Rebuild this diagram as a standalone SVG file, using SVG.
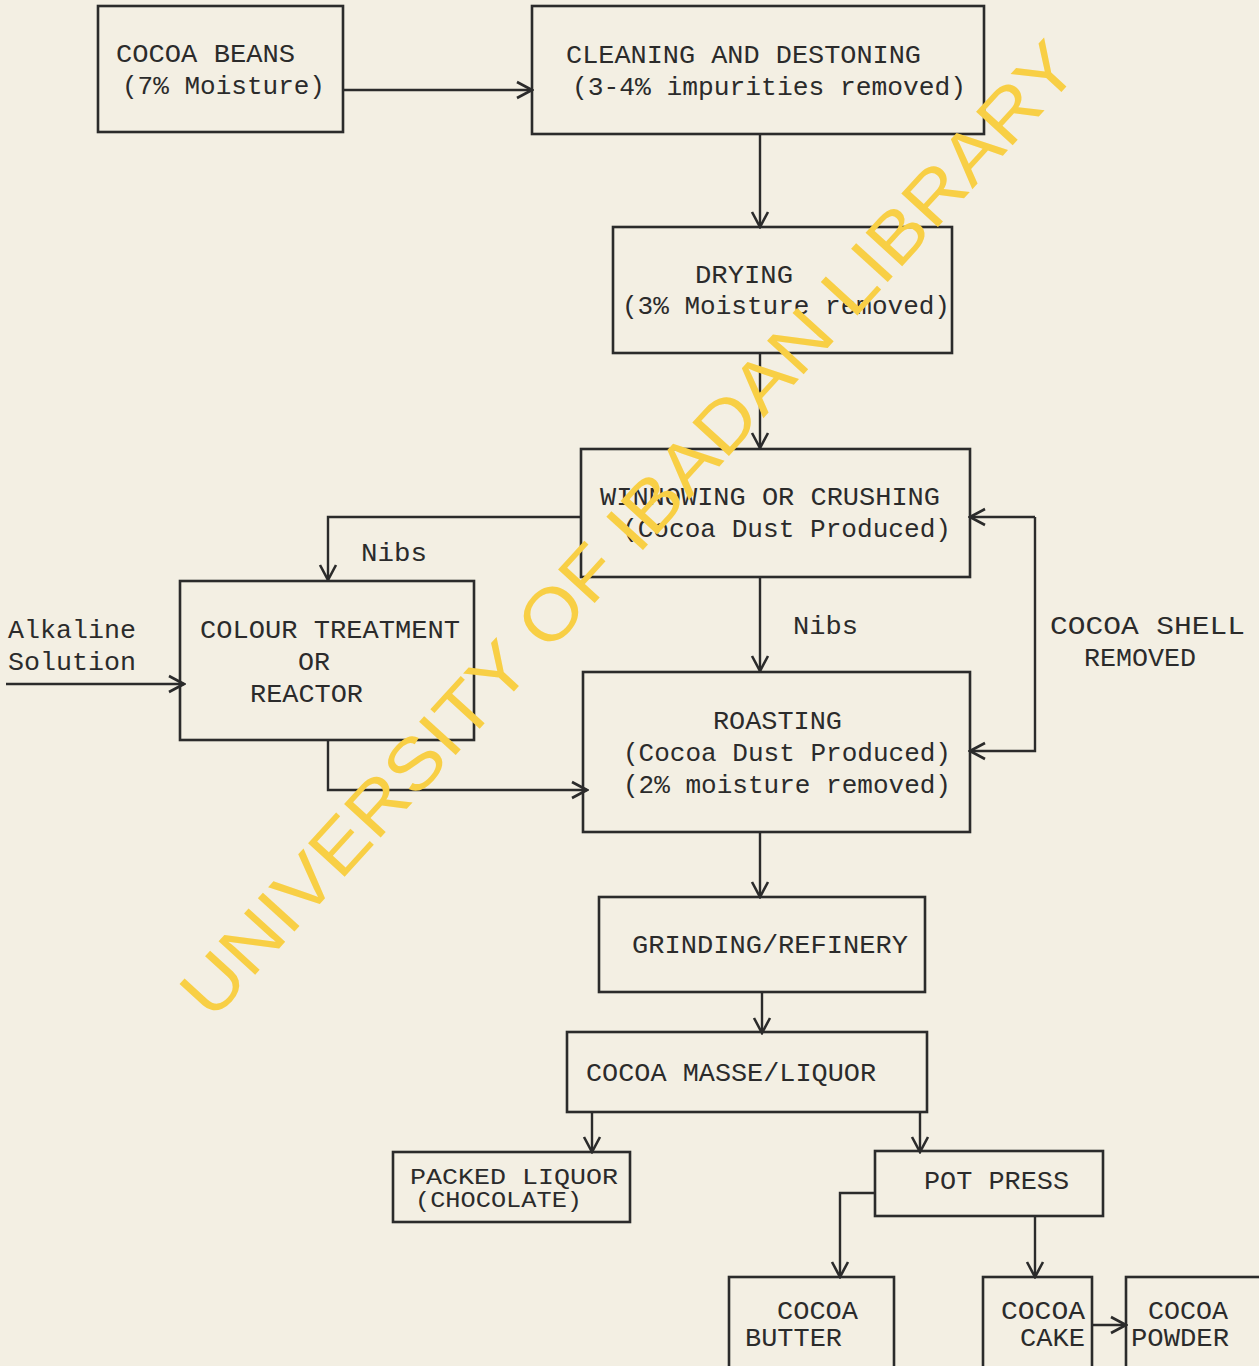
<svg xmlns="http://www.w3.org/2000/svg" width="1259" height="1366" viewBox="0 0 1259 1366">
<defs>
<marker id="arr" viewBox="0 0 20 20" refX="18" refY="10" markerWidth="20" markerHeight="20" markerUnits="userSpaceOnUse" orient="auto">
<path d="M3,2 L18,10 L3,18" fill="none" stroke="#2b2b2b" stroke-width="2.6"/>
</marker>
<style>
.box{fill:none;stroke:#2b2b2b;stroke-width:2.6}
.ln{fill:none;stroke:#2b2b2b;stroke-width:2.4}
.t{font-family:"Liberation Mono","DejaVu Sans Mono",monospace;font-size:25px;fill:#2b2b2b}
.s{font-size:22px}
.wm{font-family:"Liberation Sans",Arial,sans-serif;font-size:72px;fill:#f8cf45}
</style>
</defs>
<rect x="0" y="0" width="1259" height="1366" fill="#f3efe3"/>

<g id="connectors">
<path class="ln" d="M343,90 L532,90" marker-end="url(#arr)"/>
<path class="ln" d="M760,134 L760,227" marker-end="url(#arr)"/>
<path class="ln" d="M760,353 L760,448" marker-end="url(#arr)"/>
<path class="ln" d="M581,517 L328,517 L328,580" marker-end="url(#arr)"/>
<path class="ln" d="M6,684 L184,684" marker-end="url(#arr)"/>
<path class="ln" d="M328,740 L328,790 L587,790" marker-end="url(#arr)"/>
<path class="ln" d="M760,577 L760,671" marker-end="url(#arr)"/>
<path class="ln" d="M1035,517 L970,517" marker-end="url(#arr)"/>
<path class="ln" d="M1035,517 L1035,751 L970,751" marker-end="url(#arr)"/>
<path class="ln" d="M760,832 L760,897" marker-end="url(#arr)"/>
<path class="ln" d="M762,992 L762,1033" marker-end="url(#arr)"/>
<path class="ln" d="M592,1112 L592,1152" marker-end="url(#arr)"/>
<path class="ln" d="M920,1112 L920,1152" marker-end="url(#arr)"/>
<path class="ln" d="M875,1193 L840,1193 L840,1277" marker-end="url(#arr)"/>
<path class="ln" d="M1035,1216 L1035,1277" marker-end="url(#arr)"/>
<path class="ln" d="M1092,1325 L1126,1325" marker-end="url(#arr)"/>
<text class="t" x="361" y="561" textLength="66" lengthAdjust="spacingAndGlyphs">Nibs</text>
<text class="t" x="8" y="638" textLength="128" lengthAdjust="spacingAndGlyphs">Alkaline</text>
<text class="t" x="8" y="670" textLength="128" lengthAdjust="spacingAndGlyphs">Solution</text>
<text class="t" x="793" y="634" textLength="65" lengthAdjust="spacingAndGlyphs">Nibs</text>
<text class="t" x="1050" y="634" textLength="195" lengthAdjust="spacingAndGlyphs">COCOA  SHELL</text>
<text class="t" x="1084" y="666" textLength="112" lengthAdjust="spacingAndGlyphs">REMOVED</text>
</g>

<g id="cocoa-beans">
<rect class="box" x="98" y="6" width="245" height="126"/>
<text class="t" x="116" y="62" textLength="179" lengthAdjust="spacingAndGlyphs">COCOA BEANS</text>
<text class="t" x="122" y="94" textLength="203" lengthAdjust="spacingAndGlyphs">(7% Moisture)</text>
</g>
<g id="cleaning">
<rect class="box" x="532" y="6" width="452" height="128"/>
<text class="t" x="566" y="63" textLength="355" lengthAdjust="spacingAndGlyphs">CLEANING AND DESTONING</text>
<text class="t" x="572" y="95" textLength="394" lengthAdjust="spacingAndGlyphs">(3-4% impurities removed)</text>
</g>
<g id="drying">
<rect class="box" x="613" y="227" width="339" height="126"/>
<text class="t" x="695" y="283" textLength="98" lengthAdjust="spacingAndGlyphs">DRYING</text>
<text class="t" x="622" y="314" textLength="328" lengthAdjust="spacingAndGlyphs">(3% Moisture removed)</text>
</g>
<g id="winnowing">
<rect class="box" x="581" y="449" width="389" height="128"/>
<text class="t" x="600" y="505" textLength="340" lengthAdjust="spacingAndGlyphs">WINNOWING OR CRUSHING</text>
<text class="t" x="622" y="537" textLength="329" lengthAdjust="spacingAndGlyphs">(Cocoa Dust Produced)</text>
</g>
<g id="colour-treatment">
<rect class="box" x="180" y="581" width="294" height="159"/>
<text class="t" x="200" y="638" textLength="260" lengthAdjust="spacingAndGlyphs">COLOUR TREATMENT</text>
<text class="t" x="298" y="670" textLength="32" lengthAdjust="spacingAndGlyphs">OR</text>
<text class="t" x="250" y="702" textLength="113" lengthAdjust="spacingAndGlyphs">REACTOR</text>
</g>
<g id="roasting">
<rect class="box" x="583" y="672" width="387" height="160"/>
<text class="t" x="713" y="729" textLength="129" lengthAdjust="spacingAndGlyphs">ROASTING</text>
<text class="t" x="623" y="761" textLength="328" lengthAdjust="spacingAndGlyphs">(Cocoa Dust Produced)</text>
<text class="t" x="623" y="793" textLength="328" lengthAdjust="spacingAndGlyphs">(2% moisture removed)</text>
</g>
<g id="grinding">
<rect class="box" x="599" y="897" width="326" height="95"/>
<text class="t" x="632" y="953" textLength="276" lengthAdjust="spacingAndGlyphs">GRINDING/REFINERY</text>
</g>
<g id="cocoa-masse">
<rect class="box" x="567" y="1032" width="360" height="80"/>
<text class="t" x="586" y="1081" textLength="290" lengthAdjust="spacingAndGlyphs">COCOA MASSE/LIQUOR</text>
</g>
<g id="packed-liquor">
<rect class="box" x="393" y="1152" width="237" height="70"/>
<text class="t s" x="410" y="1184" textLength="208" lengthAdjust="spacingAndGlyphs">PACKED LIQUOR</text>
<text class="t s" x="415" y="1207" textLength="167" lengthAdjust="spacingAndGlyphs">(CHOCOLATE)</text>
</g>
<g id="pot-press">
<rect class="box" x="875" y="1151" width="228" height="65"/>
<text class="t" x="924" y="1189" textLength="145" lengthAdjust="spacingAndGlyphs">POT PRESS</text>
</g>
<g id="cocoa-butter">
<rect class="box" x="729" y="1277" width="165" height="100"/>
<text class="t" x="777" y="1319" textLength="81" lengthAdjust="spacingAndGlyphs">COCOA</text>
<text class="t" x="745" y="1346" textLength="97" lengthAdjust="spacingAndGlyphs">BUTTER</text>
</g>
<g id="cocoa-cake">
<rect class="box" x="983" y="1277" width="109" height="100"/>
<text class="t" x="1001" y="1319" textLength="84" lengthAdjust="spacingAndGlyphs">COCOA</text>
<text class="t" x="1020" y="1346" textLength="65" lengthAdjust="spacingAndGlyphs">CAKE</text>
</g>
<g id="cocoa-powder">
<rect class="box" x="1126" y="1277" width="150" height="100"/>
<text class="t" x="1148" y="1319" textLength="80" lengthAdjust="spacingAndGlyphs">COCOA</text>
<text class="t" x="1131" y="1346" textLength="98" lengthAdjust="spacingAndGlyphs">POWDER</text>
</g>

<text class="wm" transform="translate(212,1022) rotate(-47.6)" x="0" y="0" textLength="1290" lengthAdjust="spacingAndGlyphs">UNIVERSITY OF IBADAN LIBRARY</text>
</svg>
